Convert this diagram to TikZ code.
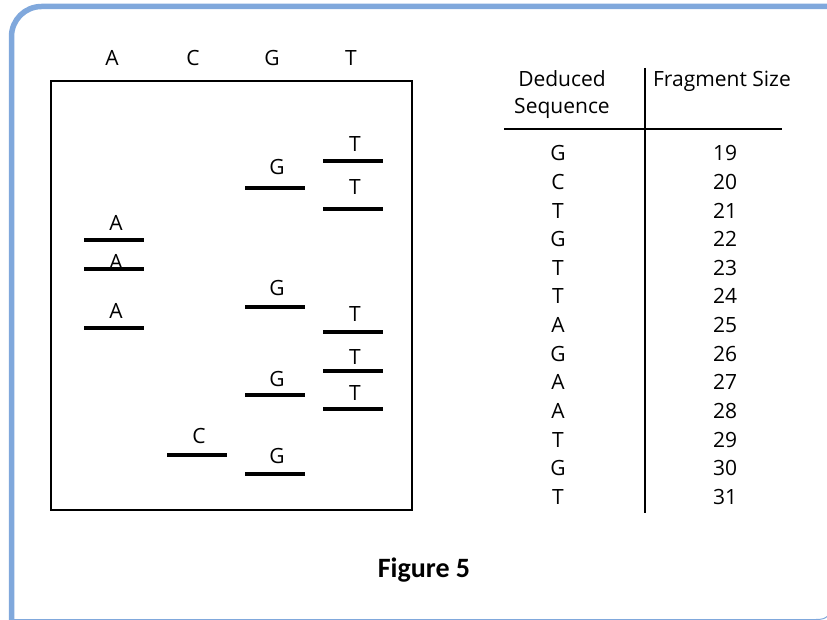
\documentclass[tikz,border=0pt]{standalone}
\usepackage{fontspec}
\setmainfont{Open Sans}
\newfontfamily\capfont{Carlito}
\usepackage{tikz}
\usetikzlibrary{positioning}
\definecolor{frameblue}{RGB}{128,168,220}

\begin{document}
\begin{tikzpicture}[x=1pt, y=-1pt,
  Band/.style={line width=4pt},
  Rule/.style={line width=2pt},
  Lbl/.style={font=\fontsize{21}{27}\selectfont, inner sep=0pt, anchor=base}]
  \useasboundingbox (0,0) rectangle (827,620);
  % frame
  \draw[frameblue, line width=5.5pt, rounded corners=30pt] (827,6.5) -- (11.5,6.5) -- (11.5,620);
  \draw[frameblue, line width=1pt] (11.5,619.5) -- (816,619.5) .. controls (822,619.5) and (825,618.5) .. (827,616.5);
  % gel
  \node[draw, Rule, minimum width=361pt, minimum height=429pt, inner sep=0pt] (gel) at (231.5,295.5) {};
  \foreach \l/\x in {A/112, C/193, G/272, T/351}
    \node[Lbl] (lane\l) at (\x,66) {\l};
  % letter / lane / band y / label base
  \foreach \l/\x/\y/\b [count=\i] in {T/353/161/151.5, G/275/188/174.5, T/353/209/195,
      A/114/240/231, A/114/269/269.5, G/275/307/295, A/114/328/319, T/353/332/321,
      T/353/371/364, G/275/395/386, T/353/409/400, C/197/455/443, G/275/474/463}
  {
    \draw[Band] (\x-30,\y) -- (\x+30,\y);
    \node[Lbl] (band\i) at (\x+2,\b) {\l};
  }
  % table
  \node[Lbl] (ded) at (562,87) {Deduced};
  \node[Lbl] (seq) at (562,114) {Sequence};
  \node[Lbl] (frag) at (722,87) {Fragment Size};
  \coordinate (vtop) at (645,68);
  \coordinate (vbot) at (645,513);
  \coordinate (hleft) at (504,129.5);
  \coordinate (hright) at (782,129.5);
  \draw[Rule] (vtop) -- (vbot);
  \draw[Rule] (hleft) -- (hright);
  \foreach \s/\n [count=\i from 0] in {G/19, C/20, T/21, G/22, T/23, T/24, A/25,
      G/26, A/27, A/28, T/29, G/30, T/31}
  {
    \node[Lbl] (s\n) at (558,161+28.6*\i) {\s};
    \node[Lbl] (n\n) at (725,161+28.6*\i) {\n};
  }
  \node[font=\capfont\bfseries\fontsize{28}{34}\selectfont, anchor=base, inner sep=0pt] (fig) at (424,577) {Figure 5};
\end{tikzpicture}
\end{document}
